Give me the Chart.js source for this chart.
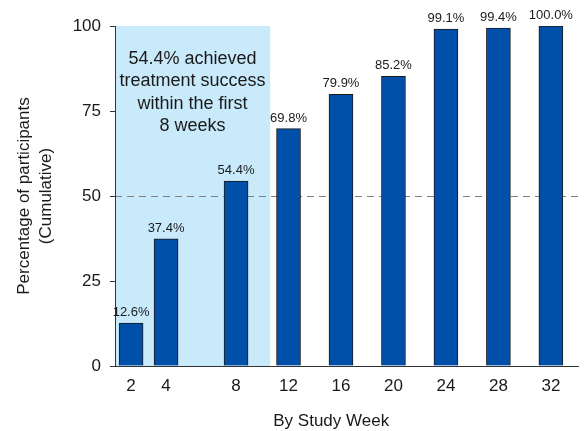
<!doctype html>
<html lang="en">
  <head>
    <meta charset="utf-8">
    <title>Cumulative treatment success</title>
    <style>
      html, body { margin: 0; padding: 0; background: #fff; }
    </style>
  </head>
  <body>
    <canvas id="myBarChart" width="584" height="431"></canvas>

    <!-- Chartjs -->
    <script src="https://cdn.jsdelivr.net/npm/chart.js@4.4.0/dist/chart.umd.min.js"></script>

    <script>
        // chart data
        var weeks = [2, 4, 8, 12, 16, 20, 24, 28, 32];
        var weekLabels = ['2', '4', '8', '12', '16', '20', '24', '28', '32'];
        var percentCumulative = [12.6, 37.4, 54.4, 69.8, 79.9, 85.2, 99.1, 99.4, 100.0];
        var yTicks = [0, 25, 50, 75, 100];
        var refLine = 50;
        var shadeEndWeek = 10.6;
        var noteLines = ['54.4% achieved', 'treatment success', 'within the first', '8 weeks'];
        var xTitle = 'By Study Week';

        var FONT = "'Liberation Sans', Arial, Helvetica, sans-serif";

        // the week axis is stretched for the first 8 weeks, compressed after
        function slotOf(w) {
            return w <= 8 ? w - 2 : 6 + (w - 8) * 0.75;
        }

        var backdrop = {
            id: 'backdrop',
            beforeDraw: function(chart) {
                var ctx = chart.ctx;
                var area = chart.chartArea;
                var x = chart.scales.x, y = chart.scales.y;
                ctx.save();
                // shaded first 8 weeks
                var xEnd = x.getPixelForValue(slotOf(shadeEndWeek));
                ctx.fillStyle = '#c9eafb';
                ctx.fillRect(area.left, area.top, xEnd - area.left, area.bottom - area.top);
                // dashed 50% line
                var yy = Math.round(y.getPixelForValue(refLine)) + 0.5;
                ctx.strokeStyle = '#808080';
                ctx.lineWidth = 1;
                ctx.setLineDash([7, 5]);
                ctx.beginPath();
                ctx.moveTo(area.left, yy);
                ctx.lineTo(area.right, yy);
                ctx.stroke();
                ctx.restore();
            }
        };

        var labelsOnTop = {
            id: 'labelsOnTop',
            afterDatasetsDraw: function(chart) {
                var ctx = chart.ctx;
                var meta = chart.getDatasetMeta(0);
                ctx.save();
                ctx.fillStyle = '#1a1a1a';
                ctx.textAlign = 'center';
                ctx.textBaseline = 'alphabetic';
                ctx.font = '13px ' + FONT;
                meta.data.forEach(function(bar, i) {
                    ctx.fillText(percentCumulative[i].toFixed(1) + '%', bar.x, bar.y - 7);
                });
                // note inside the shaded area
                var area = chart.chartArea;
                var xEnd = chart.scales.x.getPixelForValue(slotOf(shadeEndWeek));
                var cx = (area.left + xEnd) / 2;
                ctx.font = '18px ' + FONT;
                ctx.textBaseline = 'middle';
                noteLines.forEach(function(t, i) {
                    ctx.fillText(t, cx, 59 + i * 22.3);
                });
                // x axis title, sits a little left of the plot centre
                ctx.font = '17px ' + FONT;
                ctx.fillText(xTitle, area.left + (area.right - area.left) * 0.467, 421);
                ctx.restore();
            }
        };

        var ctx = document.getElementById('myBarChart').getContext('2d');

        var chart = new Chart(ctx, {
            type: 'bar',
            data: {
                datasets: [{
                    data: weeks.map(function(w, i) { return { x: slotOf(w), y: percentCumulative[i] }; }),
                    backgroundColor: '#0050aa',
                    borderColor: '#1a1a1a',
                    borderWidth: 1,
                    borderSkipped: 'bottom',
                    barThickness: 24
                }]
            },
            options: {
                responsive: false,
                animation: false,
                layout: {
                    padding: { left: 0, right: 6, top: 26, bottom: 0 }
                },
                scales: {
                    x: {
                        type: 'linear',
                        offset: false,
                        min: -0.92,
                        max: 25.55,
                        grid: { display: false, drawTicks: false },
                        border: { display: true, color: '#333', width: 1 },
                        afterBuildTicks: function(scale) {
                            scale.ticks = weeks.map(function(w) { return { value: slotOf(w) }; });
                        },
                        afterFit: function(scale) { scale.height = 65; },
                        ticks: {
                            autoSkip: false,
                            maxRotation: 0,
                            padding: 10,
                            color: '#1a1a1a',
                            font: { family: FONT, size: 17 },
                            callback: function(value, i) { return weekLabels[i]; }
                        }
                    },
                    y: {
                        min: 0,
                        max: 100,
                        afterBuildTicks: function(scale) {
                            scale.ticks = yTicks.map(function(v) { return { value: v }; });
                        },
                        afterFit: function(scale) { scale.width = 115; },
                        grid: {
                            drawOnChartArea: false,
                            drawTicks: true,
                            tickLength: 5,
                            color: '#333'
                        },
                        border: { display: true, color: '#333', width: 1 },
                        ticks: {
                            padding: 9,
                            color: '#1a1a1a',
                            font: { family: FONT, size: 17 }
                        },
                        title: {
                            display: true,
                            text: ['Percentage of participants', '(Cumulative)'],
                            color: '#1a1a1a',
                            font: { family: FONT, size: 17, lineHeight: 1.3 },
                            padding: { top: 13, bottom: 0 }
                        }
                    }
                },
                plugins: {
                    legend: { display: false },
                    tooltip: { enabled: false }
                }
            },
            plugins: [backdrop, labelsOnTop]
        });
    </script>
  </body>
</html>
